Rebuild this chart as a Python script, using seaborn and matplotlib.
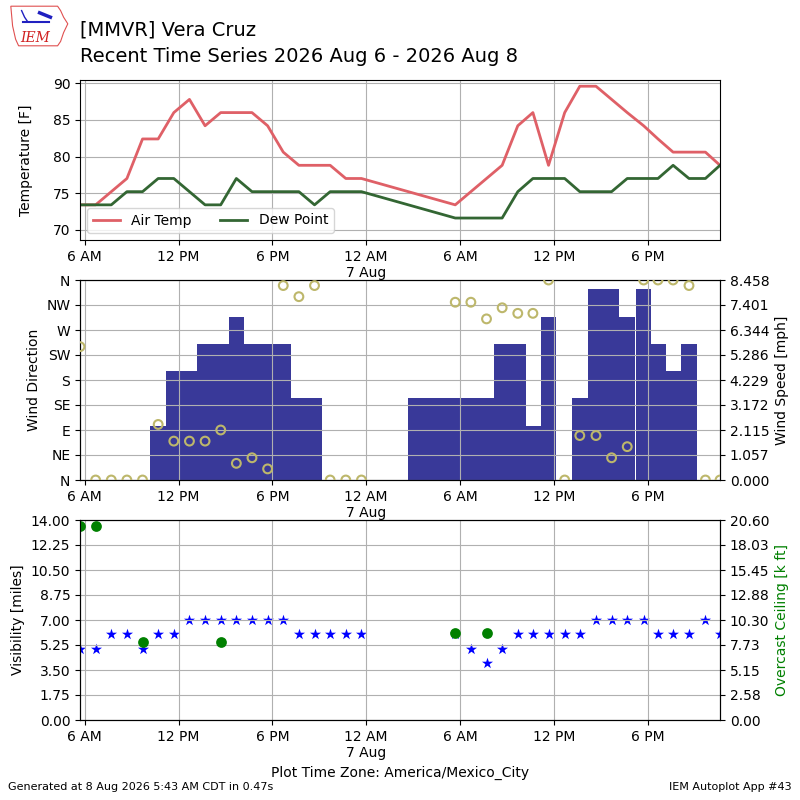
import matplotlib
matplotlib.use("Agg")
import matplotlib.pyplot as plt
import matplotlib.dates as mdates
from matplotlib.patches import Polygon
from matplotlib.ticker import FixedLocator, FuncFormatter
import numpy as np
import pandas as pd
import seaborn as sns

# ---- observations, 6 Aug 2026 (local time America/Mexico_City)
times_aug6 = ["2026-08-06 05:42", "2026-08-06 06:42", "2026-08-06 07:42", "2026-08-06 08:42",
              "2026-08-06 09:42", "2026-08-06 10:42", "2026-08-06 11:42", "2026-08-06 12:42",
              "2026-08-06 13:42", "2026-08-06 14:42", "2026-08-06 15:42", "2026-08-06 16:42",
              "2026-08-06 17:42", "2026-08-06 18:42", "2026-08-06 19:42", "2026-08-06 20:42",
              "2026-08-06 21:42", "2026-08-06 22:42", "2026-08-06 23:42"]
temp_aug6 = [73.4, 73.4, 75.2, 77.0, 82.4, 82.4, 86.0, 87.8, 84.2, 86.0,
             86.0, 86.0, 84.2, 80.6, 78.8, 78.8, 78.8, 77.0, 77.0]
dewp_aug6 = [73.4, 73.4, 73.4, 75.2, 75.2, 77.0, 77.0, 75.2, 73.4, 73.4,
             77.0, 75.2, 75.2, 75.2, 75.2, 73.4, 75.2, 75.2, 75.2]
drct_aug6 = [240, 0, 0, 0, 0, 100, 70, 70, 70, 90, 30, 40, 20, 350, 330, 350, 0, 0, 0]
sped_aug6 = [0, 0, 0, 0, 0, 2.30, 4.60, 4.60, 5.75, 5.75,
             6.90, 5.75, 5.75, 5.75, 3.45, 3.45, 0, 0, 0]
vsby_aug6 = [5, 5, 6, 6, 5, 6, 6, 7, 7, 7, 7, 7, 7, 7, 6, 6, 6, 6, 6]

# ---- observations, 7 Aug 2026
times_aug7 = ["2026-08-07 05:42", "2026-08-07 06:42", "2026-08-07 07:42", "2026-08-07 08:42",
              "2026-08-07 09:42", "2026-08-07 10:40", "2026-08-07 11:40", "2026-08-07 12:42",
              "2026-08-07 13:40", "2026-08-07 14:42", "2026-08-07 15:42", "2026-08-07 16:42",
              "2026-08-07 17:45", "2026-08-07 18:40", "2026-08-07 19:38", "2026-08-07 20:39",
              "2026-08-07 21:42", "2026-08-07 22:38"]
temp_aug7 = [73.4, 75.2, 77.0, 78.8, 84.2, 86.0, 78.8, 86.0, 89.6, 89.6,
             87.8, 86.0, 84.2, 82.4, 80.6, 80.6, 80.6, 78.8]
dewp_aug7 = [71.6, 71.6, 71.6, 71.6, 75.2, 77.0, 77.0, 77.0, 75.2, 75.2,
             75.2, 77.0, 77.0, 77.0, 78.8, 77.0, 77.0, 78.8]
drct_aug7 = [320, 320, 290, 310, 300, 300, 360, 0, 80, 80, 40, 60, 360, 360, 360, 350, 0, 0]
sped_aug7 = [3.45, 3.45, 3.45, 5.75, 5.75, 2.30, 6.90, 0, 3.45, 8.06,
             8.06, 6.90, 8.06, 5.75, 4.60, 5.75, 0, 0]
vsby_aug7 = [6, 5, 4, 5, 6, 6, 6, 6, 6, 7, 7, 7, 7, 6, 6, 6, 7, 6]

# wind-only reports overnight (no temperature / direction)
wind_only_times = ["2026-08-07 03:10", "2026-08-07 04:10", "2026-08-07 05:10"]
wind_only_sped = [3.45, 3.45, 3.45]

# overcast ceiling reports [k ft]
ceil_times = ["2026-08-06 05:42", "2026-08-06 06:42", "2026-08-06 09:42",
              "2026-08-06 14:42", "2026-08-07 05:42", "2026-08-07 07:42"]
ceil_kft = [20, 20, 8, 8, 9, 9]

dir_labels = ["N", "NE", "E", "SE", "S", "SW", "W", "NW", "N"]

df = pd.DataFrame({
    "valid": pd.to_datetime(times_aug6 + times_aug7),
    "tmpf": temp_aug6 + temp_aug7,
    "dwpf": dewp_aug6 + dewp_aug7,
    "drct": drct_aug6 + drct_aug7,
    "sped": sped_aug6 + sped_aug7,
    "vsby": vsby_aug6 + vsby_aug7,
})
wind_df = pd.concat([
    df[["valid", "sped"]],
    pd.DataFrame({"valid": pd.to_datetime(wind_only_times), "sped": wind_only_sped}),
]).sort_values("valid")
ceil_df = pd.DataFrame({"valid": pd.to_datetime(ceil_times), "ceil": ceil_kft})

TEMP_C = "#df6067"
DEWP_C = "#336633"
BAR_C = "#393999"
DIR_C = "#bdb76b"

plt.rcParams["font.family"] = ["DejaVu Sans"]

fig = plt.figure(figsize=(8, 8), dpi=100)
ax1 = fig.add_axes([0.1, 0.7, 0.8, 0.2])
ax2 = fig.add_axes([0.1, 0.4, 0.8, 0.25])
ax3 = fig.add_axes([0.1, 0.1, 0.8, 0.25])


def time_label(x, pos):
    d = mdates.num2date(x)
    if d.hour == 0:
        return f"12 AM\n{d.day} {d:%b}"
    h = d.hour % 12 or 12
    return f"{h} {'AM' if d.hour < 12 else 'PM'}"


def fmt(n):
    return FuncFormatter(lambda v, p: f"{v + 1e-9:.{n}f}")


xmin, xmax = df["valid"].min(), df["valid"].max()

# ---- temperature panel
sns.lineplot(data=df, x="valid", y="tmpf", ax=ax1, color=TEMP_C, lw=2, label="Air Temp")
sns.lineplot(data=df, x="valid", y="dwpf", ax=ax1, color=DEWP_C, lw=2, label="Dew Point")
ax1.set_ylim(68.6, 90.45)
ax1.set_yticks([70, 75, 80, 85, 90])
ax1.set_ylabel("Temperature [F]", labelpad=14)
ax1.set_xlabel("")
ax1.legend(loc="lower left", ncol=2, fontsize=10)

# ---- wind panel: bars on base axis (right ticks), direction on twin (left ticks)
spd_top = 8.458
ax2.bar(wind_df["valid"], wind_df["sped"], width=1 / 24.0, color=BAR_C, linewidth=0)
ax2.set_ylim(0, spd_top)
ax2.yaxis.set_major_locator(FixedLocator(np.linspace(0, spd_top, 9)))
ax2.yaxis.set_major_formatter(fmt(3))
ax2.set_axisbelow(False)

ax2b = ax2.twinx()
sns.scatterplot(data=df, x="valid", y="drct", ax=ax2b, marker="o", s=40,
                facecolors="none", edgecolor=DIR_C, linewidth=1.5, zorder=5)
ax2b.set_ylim(0, 360)
ax2b.set_yticks(range(0, 361, 45))
ax2b.set_yticklabels(dir_labels)
ax2b.yaxis.tick_left()
ax2b.yaxis.set_label_position("left")
ax2b.set_ylabel("Wind Direction")
ax2b.set_xlabel("")
# twinx() moved the base ticks to the left, put them back on the right
ax2.yaxis.tick_right()
ax2.yaxis.set_label_position("right")
ax2.set_ylabel("Wind Speed [mph]")

# ---- visibility / ceiling panel
sns.scatterplot(data=df, x="valid", y="vsby", ax=ax3, marker="*", s=70,
                color="b", linewidth=0)
ax3.set_ylim(0, 14)
ax3.yaxis.set_major_locator(FixedLocator(np.linspace(0, 14, 9)))
ax3.yaxis.set_major_formatter(fmt(2))
ax3.set_ylabel("Visibility [miles]")
ax3.set_xlabel("Plot Time Zone: America/Mexico_City")

ax3b = ax3.twinx()
sns.scatterplot(data=ceil_df, x="valid", y="ceil", ax=ax3b, marker="o", s=60,
                color="g", linewidth=0)
ax3b.set_ylim(0, 20.6)
ax3b.yaxis.set_major_locator(FixedLocator(np.linspace(0, 20.6, 9)))
ax3b.yaxis.set_major_formatter(fmt(2))
ax3b.set_ylabel("Overcast Ceiling [k ft]", color="g")
ax3b.set_xlabel("Plot Time Zone: America/Mexico_City")

for ax in (ax1, ax2, ax2b, ax3, ax3b):
    ax.set_xlim(xmin, xmax)
    ax.xaxis.set_major_locator(mdates.HourLocator(byhour=[0, 6, 12, 18]))
    ax.xaxis.set_major_formatter(FuncFormatter(time_label))
for ax in (ax1, ax2, ax3):
    ax.grid(True)

# ---- header
fig.text(0.1, 0.963, "[MMVR] Vera Cruz", fontsize=14, va="center")
fig.text(0.1, 0.93, "Recent Time Series 2026 Aug 6 - 2026 Aug 8", fontsize=14, va="center")

# small IEM logo (decoration)
logo = fig.add_axes([0.012, 0.94, 0.075, 0.055])
logo.set_xlim(0, 1)
logo.set_ylim(0, 1)
logo.axis("off")
logo.add_patch(Polygon([(0.02, 0.95), (0.8, 0.95), (0.85, 0.85), (0.9, 0.7), (0.97, 0.55),
                        (0.9, 0.35), (0.85, 0.15), (0.8, 0.05), (0.15, 0.05), (0.1, 0.2),
                        (0.05, 0.5)], closed=True, fill=False, edgecolor="#e05050", lw=0.8))
logo.plot([0.22, 0.65], [0.6, 0.6], color="#2020c0", lw=1.5)
logo.plot([0.2, 0.25, 0.3], [0.85, 0.7, 0.6], color="#2020c0", lw=1)
logo.plot([0.5, 0.68], [0.8, 0.7], color="#2020c0", lw=2.5)
logo.text(0.42, 0.22, "IEM", color="#d02020", fontsize=10, style="italic",
          family="DejaVu Serif", ha="center", va="center")

# ---- footer
fig.text(0.01, 0.012, "Generated at 8 Aug 2026 5:43 AM CDT in 0.47s", fontsize=8)
fig.text(0.99, 0.012, "IEM Autoplot App #43", fontsize=8, ha="right")

fig.savefig("out.png", dpi=100)
